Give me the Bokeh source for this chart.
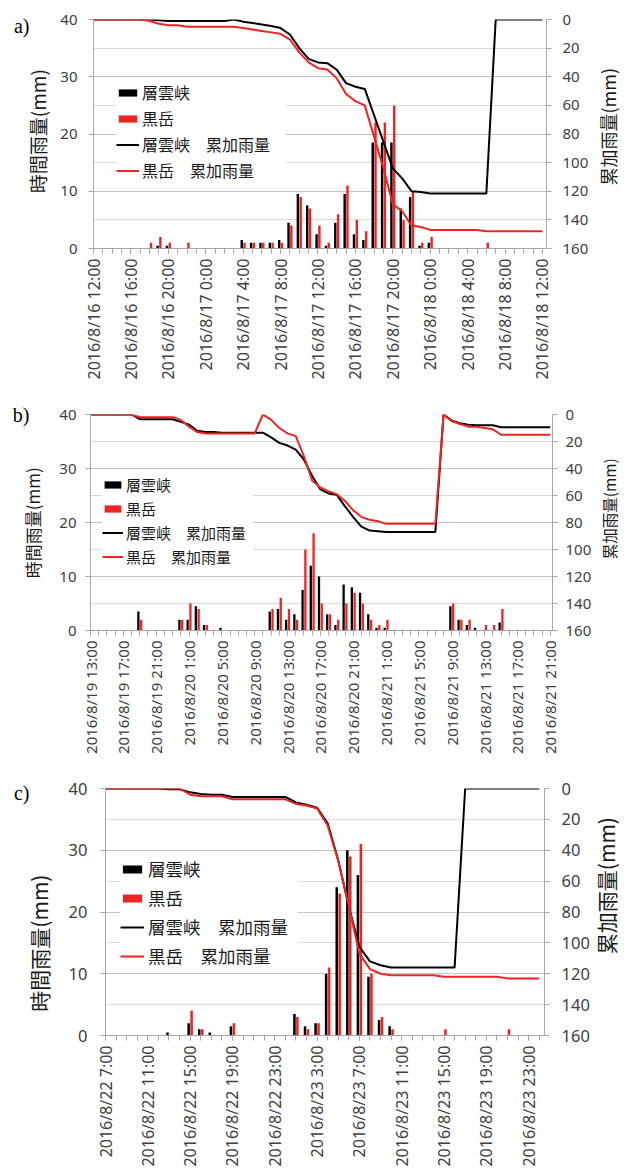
import math
from bokeh.plotting import figure
from bokeh.models import (ColumnDataSource, Range1d, LinearAxis, FixedTicker, Grid,
                          Legend, LegendItem, GlobalInlineStyleSheet)
from bokeh.embed import file_html
from bokeh.resources import INLINE

# ---------------- data: panel a (hourly, from 2016/8/16 12:00) ----------------
labels_a = ["2016/8/16 12:00", "2016/8/16 16:00", "2016/8/16 20:00", "2016/8/17 0:00",
            "2016/8/17 4:00", "2016/8/17 8:00", "2016/8/17 12:00", "2016/8/17 16:00",
            "2016/8/17 20:00", "2016/8/18 0:00", "2016/8/18 4:00", "2016/8/18 8:00",
            "2016/8/18 12:00"]
sounkyo_a = [0, 0, 0, 0, 0, 0, 0, 0.5, 0.5, 0, 0, 0, 0, 0, 0, 0,
             1.5, 1, 1, 1, 1.5, 4.5, 9.5, 7.5, 2.5, 0.5, 4.5, 9.5, 2.5, 1.5, 18.5, 18.5, 18.5, 7, 9, 0.5, 1,
             0, 0, 0, 0, 0, 0, 0, 0, 0, 0, 0, 0]
kurodake_a = [0, 0, 0, 0, 0, 0, 1, 2, 1, 0, 1, 0, 0, 0, 0, 0,
              1, 1, 1, 1, 1, 4, 9, 7, 4, 1, 6, 11, 5, 3, 22, 22, 25, 5, 10, 1, 2,
              0, 0, 0, 0, 0, 1, 0, 0, 0, 0, 0, 0]
sounkyo_cum_a = [0, 0, 0, 0, 0, 0, 0, 0.5, 1, 1, 1, 1, 1, 1, 1, 0,
                 1.5, 2.5, 3.5, 4.5, 6, 10.5, 20, 27.5, 30, 30.5, 35, 44.5, 47, 48.5, 67, 85.5, 104, 111, 120, 120.5, 121.5,
                 121.5, 121.5, 121.5, 121.5, 121.5, 121.5, 0, 0, 0, 0, 0, 0]
kurodake_cum_a = [0, 0, 0, 0, 0, 0, 1, 3, 4, 4, 5, 5, 5, 5, 5, 5,
                  6, 7, 8, 9, 10, 14, 23, 30, 34, 35, 41, 52, 57, 60, 82, 104, 129, 134, 144, 145, 147,
                  147, 147, 147, 147, 147, 148, 148, 148, 148, 148, 148, 148]

# ---------------- data: panel b (hourly, from 2016/8/19 13:00) ----------------
labels_b = ["2016/8/19 13:00", "2016/8/19 17:00", "2016/8/19 21:00", "2016/8/20 1:00",
            "2016/8/20 5:00", "2016/8/20 9:00", "2016/8/20 13:00", "2016/8/20 17:00",
            "2016/8/20 21:00", "2016/8/21 1:00", "2016/8/21 5:00", "2016/8/21 9:00",
            "2016/8/21 13:00", "2016/8/21 17:00", "2016/8/21 21:00"]
sounkyo_b = [0, 0, 0, 0, 0, 0, 3.5, 0, 0, 0, 0, 2, 2, 4.5, 1, 0, 0.5,
             0, 0, 0, 0, 0,
             3.5, 4, 2, 3, 7.5, 12, 10, 3, 1, 8.5, 8, 7, 3, 0.5, 0.5,
             0, 0, 0, 0, 0, 0, 0,
             4.5, 2, 1, 0.5, 0, 0, 1.5, 0, 0, 0, 0, 0, 0]
kurodake_b = [0, 0, 0, 0, 0, 0, 2, 0, 0, 0, 0, 2, 5, 4, 1, 0, 0,
              0, 0, 0, 0, 0,
              4, 6, 4, 2, 15, 18, 5, 3, 2, 5, 7, 5, 2, 1, 2,
              0, 0, 0, 0, 0, 0, 0,
              5, 2, 2, 0, 1, 1, 4, 0, 0, 0, 0, 0, 0]
sounkyo_cum_b = [0, 0, 0, 0, 0, 0, 3.5, 3.5, 3.5, 3.5, 3.5, 5.5, 7.5, 12, 13, 13,
                 13.5, 13.5, 13.5, 13.5, 13.5, 13.5,
                 17, 21, 23, 26, 33.5, 45.5, 55.5, 58.5, 59.5, 68, 76, 83, 86, 86.5, 87,
                 87, 87, 87, 87, 87, 87, 0,
                 4.5, 6.5, 7.5, 8, 8, 8, 9.5, 9.5, 9.5, 9.5, 9.5, 9.5, 9.5]
kurodake_cum_b = [0, 0, 0, 0, 0, 0, 2, 2, 2, 2, 2, 4, 9, 13,
                  14, 14, 14, 14, 14, 14, 14, 0,
                  4, 10, 14, 16, 31, 49, 54, 57, 59, 64, 71, 76, 78, 79, 81,
                  81, 81, 81, 81, 81, 81, 0,
                  5, 7, 9, 9, 10, 11, 15, 15, 15, 15, 15, 15, 15]

# ---------------- data: panel c (hourly, from 2016/8/22 7:00) ----------------
labels_c = ["2016/8/22 7:00", "2016/8/22 11:00", "2016/8/22 15:00", "2016/8/22 19:00",
            "2016/8/22 23:00", "2016/8/23 3:00", "2016/8/23 7:00", "2016/8/23 11:00",
            "2016/8/23 15:00", "2016/8/23 19:00", "2016/8/23 23:00"]
sounkyo_c = [0, 0, 0, 0, 0, 0, 0.5, 0, 2, 1, 0.5, 0, 1.5, 0, 0, 0, 0, 0,
             3.5, 1.5, 2, 10, 24, 30, 26, 9.5, 2.5, 1.5,
             0, 0, 0, 0, 0, 0, 0, 0, 0, 0, 0, 0, 0, 0]
kurodake_c = [0, 0, 0, 0, 0, 0, 0, 0, 4, 1, 0, 0, 2, 0, 0, 0, 0, 0,
              3, 1, 2, 11, 23, 29, 31, 10, 3, 1,
              0, 0, 0, 0, 1, 0, 0, 0, 0, 0, 1, 0, 0, 0]
sounkyo_cum_c = [0, 0, 0, 0, 0, 0, 0.5, 0.5, 2.5, 3.5, 4, 4, 5.5, 5.5, 5.5, 5.5, 5.5, 5.5,
                 9, 10.5, 12.5, 22.5, 46.5, 76.5, 102.5, 112, 114.5, 116,
                 116, 116, 116, 116, 116, 116, 0, 0, 0, 0, 0, 0, 0, 0]
kurodake_cum_c = [0, 0, 0, 0, 0, 0, 0, 0, 4, 5, 5, 5, 7, 7, 7, 7, 7, 7,
                  10, 11, 13, 24, 47, 76, 107, 117, 120, 121,
                  121, 121, 121, 121, 122, 122, 122, 122, 122, 122, 123, 123, 123, 123]

series_names = ["層雲峡", "黒岳", "層雲峡　累加雨量", "黒岳　累加雨量"]
y_title_left = "時間雨量(mm)"
y_title_right = "累加雨量(mm)"
panel_letters = ["a)", "b)", "c)"]
left_ticks = [0, 10, 20, 30, 40]
right_ticks = [0, 20, 40, 60, 80, 100, 120, 140, 160]

BLACK = "#000000"
RED = "#EE2424"
GRID_LIGHT = "#D9D9D9"
GRID_DARK = "#C4C4C4"
AXIS = "#A6A6A6"
TICK_TXT = "#404040"
TXT = "#1A1A1A"
LATIN = "Noto Sans"
CJK = "Noto Sans CJK JP"


def text_axis(range_name, tick, text, font, size, color, standoff, orientation):
    """An axis with no line and no tick marks that only carries one text label."""
    kw = {} if range_name is None else {"y_range_name": range_name}
    ax = LinearAxis(ticker=FixedTicker(ticks=[tick], minor_ticks=[]), **kw)
    ax.axis_line_color = None
    ax.major_tick_line_color = None
    ax.minor_tick_line_color = None
    ax.major_tick_out = 0
    ax.major_tick_in = 0
    ax.minor_tick_out = 0
    ax.major_label_standoff = standoff
    ax.major_label_overrides = {tick: text}
    ax.major_label_orientation = orientation
    ax.major_label_text_font = font
    ax.major_label_text_font_size = size
    ax.major_label_text_color = color
    return ax


def make_panel(letter, labels, bars_k, bars_r, cum_k, cum_r, cfg):
    n = len(bars_k)
    p = figure(frame_width=cfg["fw"], frame_height=cfg["fh"],
               x_range=Range1d(0, cfg["xmax"]), y_range=Range1d(0, 40),
               output_backend="svg", toolbar_location=None, title=None,
               min_border_left=cfg["bl"], min_border_right=cfg["br"],
               min_border_top=cfg["bt"], min_border_bottom=cfg["bb"])
    p.outline_line_color = None
    p.background_fill_color = "white"
    p.border_fill_color = "white"
    p.extra_y_ranges = {"cum": Range1d(160, 0)}

    # grids
    p.xgrid.visible = False
    p.ygrid.ticker = FixedTicker(ticks=[0, 5, 10, 15, 20, 25, 30, 35, 40])
    p.ygrid.grid_line_color = GRID_LIGHT
    g2 = Grid(dimension=1, ticker=FixedTicker(ticks=[10, 20, 30, 40]),
              grid_line_color=GRID_DARK, level="underlay")
    p.add_layout(g2, "center")

    # x axis
    major = list(range(0, n, 4))
    xa = p.xaxis[0]
    xa.ticker = FixedTicker(ticks=major, minor_ticks=list(range(n)))
    xa.axis_line_color = AXIS
    xa.major_tick_line_color = AXIS
    xa.minor_tick_line_color = AXIS
    xa.major_tick_out = 5
    xa.minor_tick_out = 5
    xa.major_tick_in = 0
    xa.minor_tick_in = 0
    xa.major_label_standoff = 5
    xa.major_label_overrides = {t: lab for t, lab in zip(major, labels)}
    xa.major_label_orientation = math.pi / 2
    xa.major_label_text_font = LATIN
    xa.major_label_text_font_size = cfg["xfs"]
    xa.major_label_text_color = TICK_TXT

    # left numeric axis
    ya = p.yaxis[0]
    ya.ticker = FixedTicker(ticks=left_ticks, minor_ticks=[])
    ya.axis_line_color = AXIS
    ya.major_tick_line_color = AXIS
    ya.major_tick_out = 5
    ya.major_tick_in = 0
    ya.major_label_standoff = cfg["lstand"]
    ya.major_label_text_font = LATIN
    ya.major_label_text_font_size = cfg["tfs"]
    ya.major_label_text_color = TICK_TXT

    # panel letter and left title (outer left axes)
    p.add_layout(text_axis(None, cfg["letter_v"], letter, "Liberation Serif", "20px", "#000000",
                           cfg["letter_so"], "horizontal"), "left")
    p.add_layout(text_axis(None, cfg["ltit_v"], y_title_left, CJK, cfg["ltit_fs"], TXT,
                           cfg["ltit_so"], math.pi / 2), "left")

    # right numeric axis
    ra = LinearAxis(y_range_name="cum", ticker=FixedTicker(ticks=right_ticks, minor_ticks=[]))
    ra.axis_line_color = AXIS
    ra.major_tick_line_color = AXIS
    ra.major_tick_out = 5
    ra.major_tick_in = 0
    ra.major_label_standoff = cfg["rstand"]
    ra.major_label_text_font = LATIN
    ra.major_label_text_font_size = cfg["tfs"]
    ra.major_label_text_color = TICK_TXT
    p.add_layout(ra, "right")
    p.add_layout(text_axis("cum", cfg["rtit_v"], y_title_right, CJK, cfg["rtit_fs"], TXT,
                           cfg["rtit_so"], math.pi / 2), "right")

    # bars
    off = cfg["off"]
    bw = cfg["bw"]
    src_k = ColumnDataSource(dict(x=[i - off for i, v in enumerate(bars_k) if v > 0],
                                  top=[v for v in bars_k if v > 0]))
    src_r = ColumnDataSource(dict(x=[i + off for i, v in enumerate(bars_r) if v > 0],
                                  top=[v for v in bars_r if v > 0]))
    r1 = p.vbar(x="x", top="top", bottom=0, width=bw, source=src_k,
                fill_color=BLACK, line_color=None)
    r2 = p.vbar(x="x", top="top", bottom=0, width=bw, source=src_r,
                fill_color=RED, line_color=None)
    # cumulative lines
    xs = list(range(n))
    r3 = p.line(x=xs, y=cum_k, y_range_name="cum", line_color=BLACK, line_width=2)
    r4 = p.line(x=xs, y=cum_r, y_range_name="cum", line_color=RED, line_width=2)

    legend = Legend(items=[LegendItem(label=series_names[0], renderers=[r1]),
                           LegendItem(label=series_names[1], renderers=[r2]),
                           LegendItem(label=series_names[2], renderers=[r3]),
                           LegendItem(label=series_names[3], renderers=[r4])],
                    location=cfg["legloc"], margin=0, padding=5,
                    spacing=cfg["legsp"], glyph_width=cfg["gw"], glyph_height=cfg["gh"],
                    label_standoff=cfg["lso"], label_width=cfg["lw"],
                    label_text_font=CJK, label_text_font_size=cfg["legfs"],
                    label_text_color=TXT, border_line_color=None,
                    background_fill_color="white", background_fill_alpha=1.0)
    p.add_layout(legend, "center")
    return p


cfg_a = dict(fw=453, fh=229, xmax=48.43, bl=93, br=79, bt=19, bb=150,
             xfs="16px", tfs="15px", lstand=11, rstand=11,
             letter_v=38.95, letter_so=28, ltit_v=31.33, ltit_fs="19px", ltit_so=-27,
             rtit_v=116.0, rtit_fs="18px", rtit_so=17,
             off=0.15, bw=0.26, legloc=(23, 66), legsp=2, gw=23, gh=9, lso=3, lw=144,
             legfs="16px")
cfg_b = dict(fw=462, fh=216, xmax=56.27, bl=90, br=73, bt=16, bb=140,
             xfs="15px", tfs="15px", lstand=9, rstand=8,
             letter_v=40, letter_so=27, ltit_v=30.23, ltit_fs="17px", ltit_so=-23,
             rtit_v=107.3, rtit_fs="15.5px", rtit_so=15,
             off=0.17, bw=0.28, legloc=(12, 63), legsp=3, gw=21, gh=9, lso=3, lw=127,
             legfs="15px")
cfg_c = dict(fw=439, fh=247, xmax=41.5, bl=105, br=81, bt=18, bb=133,
             xfs="16px", tfs="16.5px", lstand=13, rstand=12,
             letter_v=39.35, letter_so=36, ltit_v=26.06, ltit_fs="21px", ltit_so=-29,
             rtit_v=107.3, rtit_fs="21px", rtit_so=14,
             off=0.14, bw=0.24, legloc=(15, 67), legsp=4, gw=24, gh=10, lso=4, lw=150,
             legfs="17.5px")

pa = make_panel(panel_letters[0], labels_a, sounkyo_a, kurodake_a, sounkyo_cum_a, kurodake_cum_a, cfg_a)
pb = make_panel(panel_letters[1], labels_b, sounkyo_b, kurodake_b, sounkyo_cum_b, kurodake_cum_b, cfg_b)
pc = make_panel(panel_letters[2], labels_c, sounkyo_c, kurodake_c, sounkyo_cum_c, kurodake_cum_c, cfg_c)

pa.stylesheets = [GlobalInlineStyleSheet(css="html, body { margin: 0; padding: 0; overflow: hidden; }")]

open("out.html", "w").write(file_html([pa, pb, pc], INLINE))
